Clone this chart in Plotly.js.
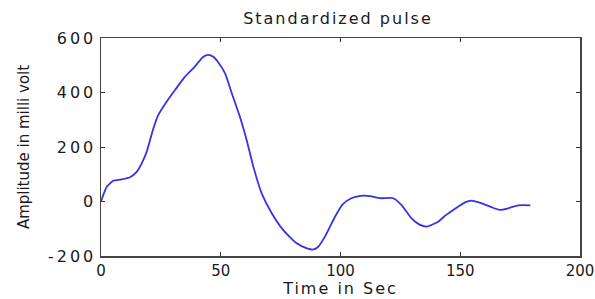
<!DOCTYPE html>
<html>
<head>
<meta charset="utf-8">
<script src="https://cdn.plot.ly/plotly-3.0.1.min.js"></script>
<style>
html,body{margin:0;padding:0;background:#fff;}
#chart{width:595px;height:299px;}
#chart .gtitle, #chart .xtitle {letter-spacing: 2px;}
#chart .ytick text {letter-spacing: 3px;}
</style>
</head>
<body>
<div id="chart"></div>
<script>
const timeSec = [0, 1, 2.4, 5.1, 8.6, 12.1, 14.9, 17, 19.1, 20.5, 21.9, 23.9, 27.4, 30.9, 35.1, 39.2, 42.7, 44.8, 46.9, 49, 51.8, 54.6, 58, 60.8, 63.6, 67.1, 71.3, 76.1, 81.7, 86, 88.7, 90.7, 93.5, 97.7, 101, 104.5, 108.4, 112.3, 116.5, 122, 125.5, 129.7, 133, 136, 140.8, 144, 147.1, 152, 154.8, 159, 163.1, 166.6, 170, 174.2, 179.3];
const amplitude = [0, 25, 54, 76, 81, 89, 109, 140, 183, 226, 269, 317, 366, 409, 458, 495, 531, 538, 531, 510, 470, 397, 311, 226, 128, 30, -43, -105, -153, -172, -176, -166, -129, -56, -10, 12, 21, 20, 12, 12, -13, -62, -85, -92, -74, -50, -31, -3, 3, -7, -21, -31, -25, -14, -14];
const xTicks = [0, 50, 100, 150, 200];
const yTicks = [-200, 0, 200, 400, 600];

const font = {family: 'DejaVu Sans, Arial, sans-serif', color: '#1a1a1a'};
Plotly.newPlot('chart', [{
  x: timeSec, y: amplitude, type: 'scatter', mode: 'lines',
  line: {color: '#3434e6', width: 1.8, shape: 'spline', smoothing: 0.6}
}], {
  width: 595, height: 299,
  margin: {l: 101, r: 15, t: 38, b: 43},
  paper_bgcolor: '#fff', plot_bgcolor: '#fff',
  showlegend: false,
  title: {text: 'Standardized pulse', font: Object.assign({size: 16}, font), x: 0.568, xanchor: 'center', y: 0.94, yanchor: 'middle'},
  xaxis: {
    range: [0, 200], tickvals: xTicks, ticktext: xTicks.map(String), ticklabeloverflow: 'allow',
    ticks: 'inside', ticklen: 4, tickcolor: '#333', showline: true, linecolor: '#444', linewidth: 1.5, mirror: 'ticks',
    showgrid: false, zeroline: false, tickfont: Object.assign({size: 15}, font),
    title: {text: 'Time in Sec', font: Object.assign({size: 16}, font), standoff: 4}
  },
  yaxis: {
    range: [-200, 600], tickvals: yTicks, ticktext: yTicks.map(String), ticklabeloverflow: 'allow',
    ticks: 'inside', ticklen: 4, tickcolor: '#333', showline: true, linecolor: '#444', linewidth: 1.5, mirror: 'ticks',
    showgrid: false, zeroline: false, tickfont: Object.assign({size: 16}, font),
    title: {text: 'Amplitude in milli volt', font: Object.assign({size: 15}, font), standoff: 26}
  }
}, {displayModeBar: false, staticPlot: true});
</script>
</body>
</html>
